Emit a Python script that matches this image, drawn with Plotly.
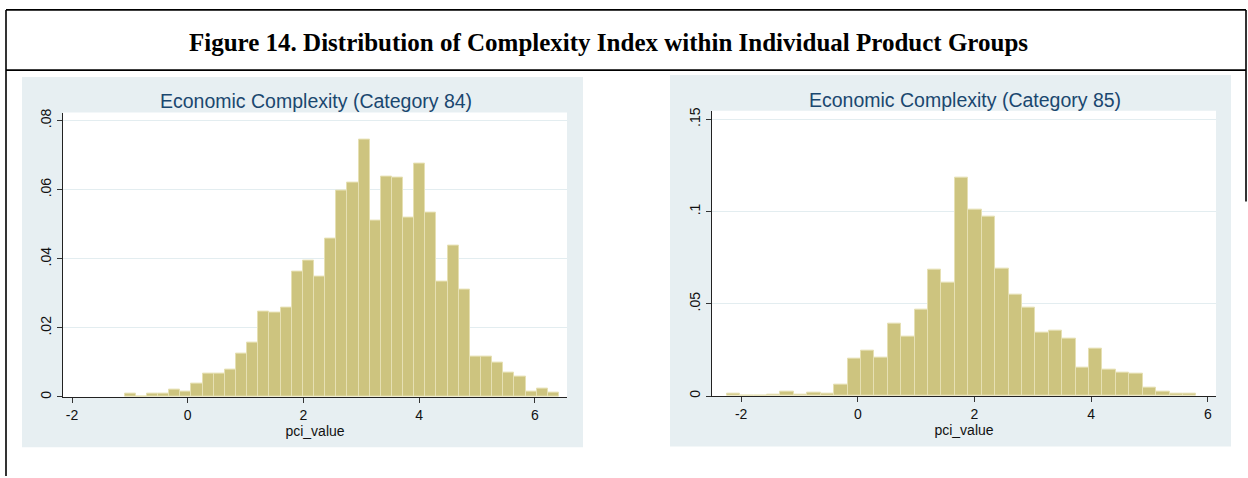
import plotly.graph_objects as go

# ---------------- data ----------------
main_title = "Figure 14. Distribution of Complexity Index within Individual Product Groups"
panel_titles = ["Economic Complexity (Category 84)", "Economic Complexity (Category 85)"]
x_title = "pci_value"

x_tick_vals = [-2, 0, 2, 4, 6]
x_tick_text = ["-2", "0", "2", "4", "6"]

y_tick_vals_84 = [0, 0.02, 0.04, 0.06, 0.08]
y_tick_text_84 = ["0", ".02", ".04", ".06", ".08"]
y_tick_vals_85 = [0, 0.05, 0.10, 0.15]
y_tick_text_85 = ["0", ".05", ".1", ".15"]

# histogram of category 84 (fraction per bin)
bin_start_84 = -1.09
bin_width_84 = 0.1925
fraction_84 = [0.0010, 0.0, 0.0010, 0.0010, 0.0022, 0.0017, 0.0039, 0.0068, 0.0068, 0.0078,
               0.0126, 0.0158, 0.0246, 0.0244, 0.0260, 0.0364, 0.0394, 0.0349, 0.0458, 0.0597,
               0.0619, 0.0746, 0.0511, 0.0639, 0.0636, 0.0519, 0.0676, 0.0535, 0.0333, 0.0437,
               0.0310, 0.0116, 0.0116, 0.0100, 0.0070, 0.0060, 0.0015, 0.0023, 0.0013]

# histogram of category 85 (fraction per bin)
bin_start_85 = -2.247
bin_width_85 = 0.230
fraction_85 = [0.0013, 0.0, 0.0, 0.0005, 0.0024, 0.0005, 0.0018, 0.0013, 0.0063, 0.0202,
               0.0245, 0.0206, 0.0390, 0.0320, 0.0466, 0.0684, 0.0613, 0.1184, 0.1010, 0.0970,
               0.0693, 0.0552, 0.0477, 0.0343, 0.0352, 0.0309, 0.0152, 0.0259, 0.0141, 0.0125,
               0.0122, 0.0048, 0.0024, 0.0013, 0.0013]

# ---------------- layout helpers ----------------
W, H = 1248, 478
def px(x):
    return x / W
def py(y):
    return 1 - y / H

BAR_FILL = "#cdc47f"
BAR_LINE = "#e6e0b3"
PANEL_BG = "#e7eff2"
GRID = "#e3edf0"
TITLE_BLUE = "#1a476f"
FONT = "Liberation Sans, Arial, sans-serif"

fig = go.Figure()

def centers(start, width, n):
    return [start + width * (i + 0.5) for i in range(n)]

fig.add_trace(go.Bar(
    x=centers(bin_start_84, bin_width_84, len(fraction_84)), y=fraction_84,
    width=bin_width_84, marker=dict(color=BAR_FILL, line=dict(color=BAR_LINE, width=1)),
    xaxis="x", yaxis="y", showlegend=False, hoverinfo="x+y"))
fig.add_trace(go.Bar(
    x=centers(bin_start_85, bin_width_85, len(fraction_85)), y=fraction_85,
    width=bin_width_85, marker=dict(color=BAR_FILL, line=dict(color=BAR_LINE, width=1)),
    xaxis="x2", yaxis="y2", showlegend=False, hoverinfo="x+y"))

# plot areas (pixels)
L = dict(x0=63, x1=567, y0=110, y1=398)
R = dict(x0=712, x1=1216, y0=108, y1=397)

def xaxis(dom, rng, anchor):
    return dict(domain=[px(dom["x0"]), px(dom["x1"])], range=rng, anchor=anchor,
                tickvals=x_tick_vals, ticktext=x_tick_text, ticks="outside", ticklen=5,
                tickcolor="#333333", tickwidth=1, showgrid=False, zeroline=False,
                showline=True, linecolor="#222222", linewidth=1.2,
                tickfont=dict(family=FONT, size=14, color="#111111"),
                title=dict(text=x_title, font=dict(family=FONT, size=14, color="#111111"), standoff=0),
                fixedrange=True)

def yaxis(dom, rng, anchor, tv, tt):
    return dict(domain=[py(dom["y1"]), py(dom["y0"])], range=rng, anchor=anchor,
                tickvals=tv, ticktext=tt, ticks="outside", ticklen=5, tickangle=-90,
                tickcolor="#333333", tickwidth=1, showgrid=True, gridcolor=GRID, gridwidth=1,
                zeroline=False, showline=True, linecolor="#222222", linewidth=1.2,
                tickfont=dict(family=FONT, size=14, color="#111111"), fixedrange=True)

shapes = []
# panel backgrounds
shapes.append(dict(type="rect", xref="paper", yref="paper", x0=px(22), x1=px(583), y0=py(449), y1=py(74),
                   fillcolor=PANEL_BG, line=dict(width=0), layer="below"))
shapes.append(dict(type="rect", xref="paper", yref="paper", x0=px(670), x1=px(1231), y0=py(448), y1=py(72),
                   fillcolor=PANEL_BG, line=dict(width=0), layer="below"))
# white plot areas
for d in (L, R):
    shapes.append(dict(type="rect", xref="paper", yref="paper", x0=px(d["x0"]), x1=px(d["x1"]),
                       y0=py(d["y1"]), y1=py(d["y0"]), fillcolor="white", line=dict(width=0), layer="below"))
# frame lines
frame = dict(color="black", width=1.6)
shapes.append(dict(type="line", xref="paper", yref="paper", x0=px(6), x1=px(1246), y0=py(6), y1=py(6), line=frame))
shapes.append(dict(type="line", xref="paper", yref="paper", x0=px(6), x1=px(1246), y0=py(67), y1=py(67), line=frame))
shapes.append(dict(type="line", xref="paper", yref="paper", x0=px(6), x1=px(6), y0=py(6), y1=py(478), line=frame))
shapes.append(dict(type="line", xref="paper", yref="paper", x0=px(1246), x1=px(1246), y0=py(6), y1=py(200), line=frame))

annotations = [
    dict(text=main_title, xref="paper", yref="paper", x=px(608), y=py(39), showarrow=False,
         xanchor="center", yanchor="middle",
         font=dict(family="Liberation Serif, Times New Roman, serif", size=25, color="black", weight="bold")),
    dict(text=panel_titles[0], xref="paper", yref="paper", x=px(316), y=py(98), showarrow=False,
         xanchor="center", yanchor="middle", font=dict(family=FONT, size=19.5, color=TITLE_BLUE)),
    dict(text=panel_titles[1], xref="paper", yref="paper", x=px(965), y=py(97), showarrow=False,
         xanchor="center", yanchor="middle", font=dict(family=FONT, size=19.5, color=TITLE_BLUE)),
]

fig.update_layout(
    width=W, height=H, margin=dict(l=0, r=0, t=0, b=0),
    paper_bgcolor="white", plot_bgcolor="rgba(0,0,0,0)",
    bargap=0, barmode="overlay",
    xaxis=xaxis(L, [-2.156, 6.557], "y"),
    yaxis=yaxis(L, [0, 0.0823], "x", y_tick_vals_84, y_tick_text_84),
    xaxis2=xaxis(R, [-2.50, 6.14], "y2"),
    yaxis2=yaxis(R, [0, 0.1547], "x2", y_tick_vals_85, y_tick_text_85),
    shapes=shapes, annotations=annotations,
    font=dict(family=FONT),
)

fig.write_html("out.html", config=dict(displayModeBar=False),
               post_script="document.body.style.margin='0';document.body.style.overflow='hidden';")
